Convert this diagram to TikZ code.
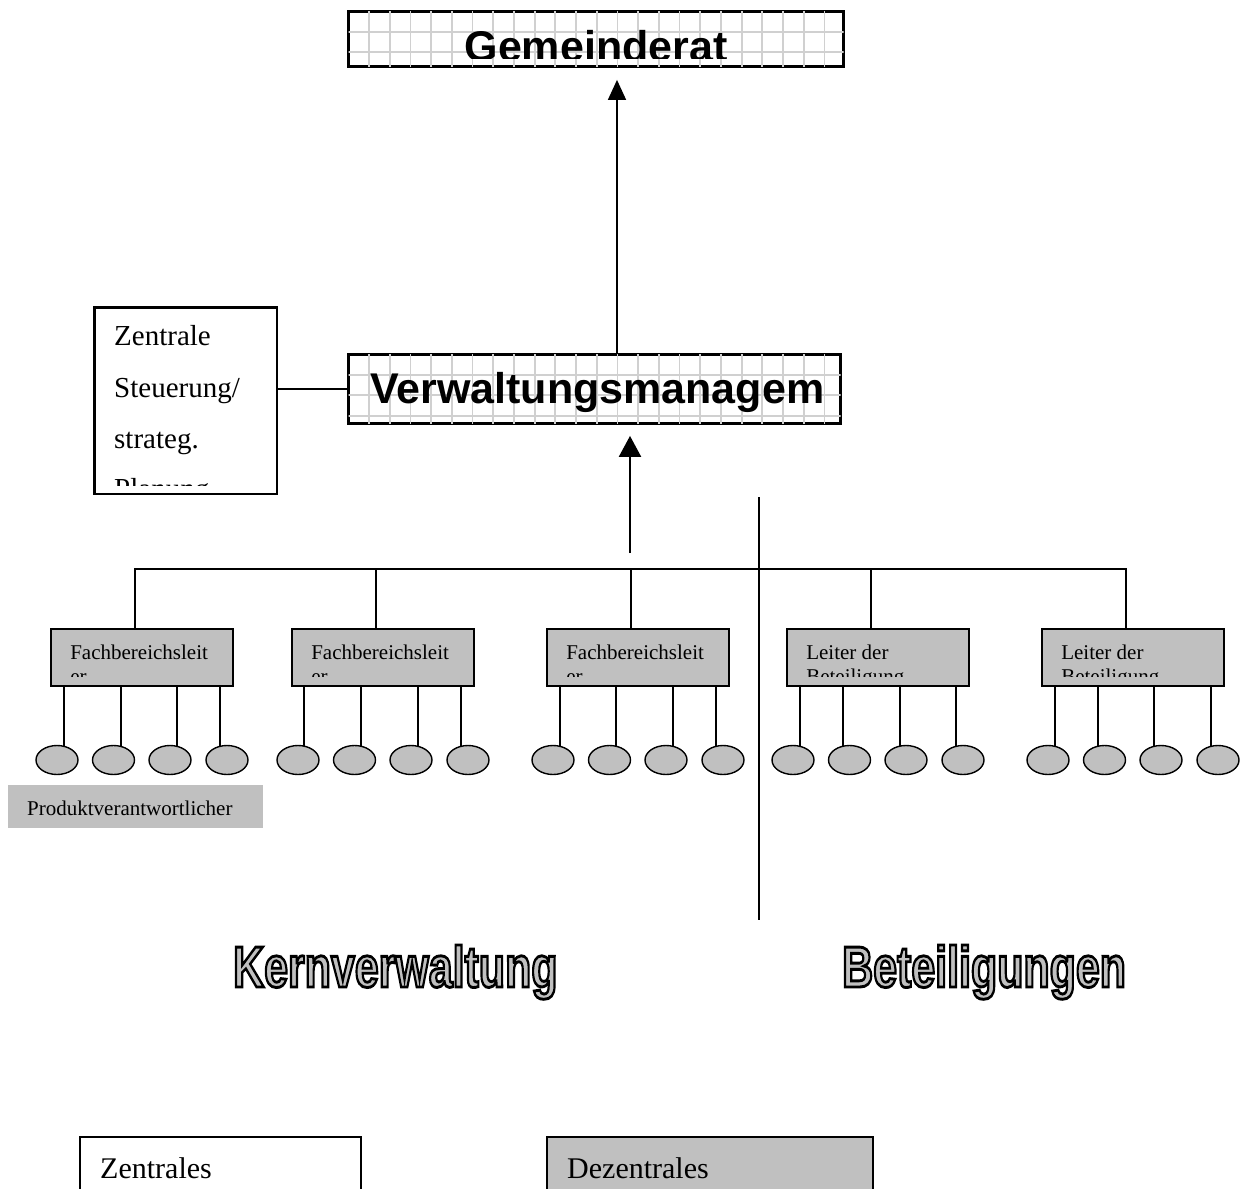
\documentclass[tikz,border=0pt]{standalone}
\usepackage{fontspec}
\usepackage{graphicx}
\setmainfont{Liberation Serif}
\newfontfamily\arialf{Liberation Sans}
\newfontfamily\outlf[FakeBold=5]{Liberation Sans Bold}
\usetikzlibrary{shapes.geometric,arrows.meta,calc}
\definecolor{fillgray}{HTML}{C0C0C0}
\definecolor{gridgray}{HTML}{D0D0D0}
\tikzset{
  headbox/.style={draw=black, fill=white, line width=2.8pt, inner sep=0pt},
  sidebox/.style={draw=black, fill=white, line width=2.5pt, inner sep=0pt},
  fbbox/.style={draw=black, fill=fillgray, line width=1.8pt, minimum width=182pt, minimum height=57pt, inner sep=0pt},
  leaf/.style={ellipse, draw=black, fill=fillgray, line width=1.4pt, minimum width=42pt, minimum height=29pt, inner sep=0pt},
  conn/.style={line width=1.5pt, draw=black},
  gridline/.style={draw=gridgray, line width=1.8pt},
  bigtxt/.style={font=\arialf\bfseries\fontsize{43}{48}\selectfont, inner sep=0pt},
  smalltxt/.style={font=\fontsize{21}{25}\selectfont, anchor=base west, inner sep=0pt},
  sidetxt/.style={font=\fontsize{29}{33}\selectfont, anchor=base west, inner sep=0pt},
  legendtxt/.style={font=\fontsize{30}{34}\selectfont, anchor=base west, inner sep=0pt},
  outl/.style={font=\outlf\fontsize{58}{62}\selectfont, anchor=base west, inner sep=0pt, text=fillgray},
}
\newcommand\strokeblack{\special{pdf:literal direct 0 G}}
\begin{document}
\begin{tikzpicture}[x=1pt,y=-1pt]
\useasboundingbox (0,0) rectangle (1240,1189);
\clip (0,0) rectangle (1240,1189);

% ---------- Gemeinderat ----------
\node[headbox, minimum width=495pt, minimum height=55pt] (gr) at (596,39) {};
\begin{scope}
  \clip ($(gr.north west)+(1.4,1.4)$) rectangle ($(gr.south east)+(-1.4,-1.4)$);
  \foreach \i in {0,...,23} \draw[gridline] (369+20.7*\i,0) -- (369+20.7*\i,80);
  \foreach \yy in {32,52} \draw[gridline] (300,\yy) -- (900,\yy);
  \begin{scope}
    \clip (0,0) rectangle (1240,58);
    \node[bigtxt, anchor=base] (grt) at (596,61) {Gemeinderat};
  \end{scope}
\end{scope}

% ---------- Verwaltungsmanagement ----------
\node[headbox, minimum width=492pt, minimum height=69pt] (vm) at (594.5,389) {};
\begin{scope}
  \clip ($(vm.north west)+(1.4,1.4)$) rectangle ($(vm.south east)+(-1.4,-1.4)$);
  \foreach \i in {0,...,23} \draw[gridline] (369+20.7*\i,340) -- (369+20.7*\i,440);
  \foreach \yy in {375,395,416} \draw[gridline] (300,\yy) -- (900,\yy);
  \node[bigtxt, anchor=base west] (vmt) at (370,403) {Verwaltungsmanagem};
\end{scope}

% ---------- Zentrale Steuerung ----------
\node[sidebox, minimum width=182.5pt, minimum height=186.5pt] (zs) at (185.5,400.5) {};
\begin{scope}
  \clip (95,308) rectangle (276,485);
  \node[sidetxt] (zs1) at (114,345) {Zentrale};
  \node[sidetxt] (zs2) at (114,397) {Steuerung/};
  \node[sidetxt] (zs3) at (114,448) {strateg.};
  \node[sidetxt] (zs4) at (114,498) {Planung};
\end{scope}
\draw[conn] (zs.east |- vm.west) -- (vm.west);

% ---------- arrows ----------
\coordinate (ax) at (617,0);
\draw[conn, -{Triangle[length=20pt,width=18pt]}] (vm.north -| ax) -- ([yshift=-12pt]gr.south -| ax);
\coordinate (ua) at (630,553);
\draw[line width=2.2pt, -{Triangle[length=21pt,width=22pt]}] (ua) -- ([yshift=-11pt]vm.south -| ua);

% ---------- department boxes ----------
\foreach \n/\cx/\dx in {1/142/135, 2/383/376, 3/638/631, 4/878/871, 5/1133/1126} {
  \node[fbbox] (b\n) at (\cx,657.5) {};
  \coordinate (d\n) at (\dx,569);
}
\draw[conn] (b1.north -| d1) -- (d1) -- (d5) -- (b5.north -| d5);
\foreach \n in {2,3,4} \draw[conn] (d\n) -- (b\n.north -| d\n);

\foreach \n/\ta/\tb in {1/Fachbereichsleit/er, 2/Fachbereichsleit/er, 3/Fachbereichsleit/er, 4/Leiter der/Beteiligung, 5/Leiter der/Beteiligung} {
  \node[smalltxt] (t\n a) at ($(b\n.north west)+(20,31)$) {\ta};
  \begin{scope}
    \clip (b\n.north west) rectangle ($(b\n.south east)+(0,-10)$);
    \node[smalltxt] (t\n b) at ($(b\n.north west)+(20,55)$) {\tb};
  \end{scope}
}

% ---------- leaves ----------
\foreach \n/\bl in {1/50, 2/291, 3/546, 4/786, 5/1041} {
  \foreach \k/\eo in {1/7, 2/63.5, 3/120, 4/177}
    \node[leaf] (e\n\k) at (\bl+\eo,760) {};
}
\foreach \n/\bl/\la/\lb/\lc/\ld in {1/50/14/71/127/170, 2/291/13/70/127/170, 3/546/14/70/127/170, 4/786/14/57/114/170, 5/1041/14/57/113/170} {
  \foreach \k/\lo in {1/\la, 2/\lb, 3/\lc, 4/\ld} {
    \coordinate (l\n\k) at (\bl+\lo,0);
    \draw[conn] (b\n.south -| l\n\k) -- ([yshift=-1pt]e\n\k.north -| l\n\k);
  }
}

% ---------- Produktverantwortlicher ----------
\node[fill=fillgray, minimum width=255pt, minimum height=43pt, inner sep=0pt] (pv) at (135.5,806.5) {};
\node[smalltxt] (pvt) at (27,815) {Produktverantwortlicher};

% ---------- divider ----------
\coordinate (dv1) at (759,497);
\coordinate (dv2) at (759,920);
\draw[conn] (dv1) -- (dv2);

% ---------- outlined labels ----------
\node[outl] (kv) at (233,987) {\scalebox{0.74}[1]{\strokeblack Kernverwaltung}};
\node[outl] (bt) at (842,987) {\scalebox{0.74}[1]{\strokeblack Beteiligungen}};

% ---------- legend boxes ----------
\node[draw=black, fill=white, line width=1.5pt, minimum width=281pt, minimum height=90pt, inner sep=0pt, anchor=north west] (zb) at (79,1136) {};
\node[legendtxt] (zbt) at (100,1178) {Zentrales};
\node[draw=black, fill=fillgray, line width=1.5pt, minimum width=326pt, minimum height=90pt, inner sep=0pt, anchor=north west] (db) at (546,1136) {};
\node[legendtxt] (dbt) at (567,1178) {Dezentrales};
\end{tikzpicture}
\end{document}
